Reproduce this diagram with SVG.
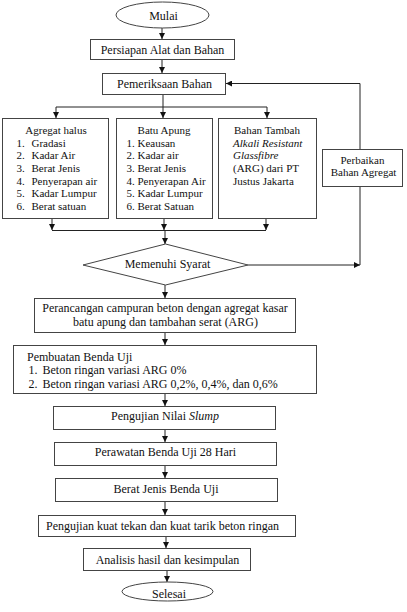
<svg xmlns="http://www.w3.org/2000/svg" width="407" height="612" viewBox="0 0 407 612" font-family="'Liberation Serif', 'Times New Roman', 'DejaVu Serif', serif">
<style>
.b{fill:#fff;stroke:#444;stroke-width:1}
.c{fill:none;stroke:#222;stroke-width:1}
text{font-family:'Liberation Serif','Times New Roman','DejaVu Serif',serif;fill:#111}
.t12{font-size:12px}
.t11{font-size:11px}
.m{text-anchor:middle}
.i{font-style:italic}
</style>
<defs>
<marker id="ah" viewBox="0 0 6 6" refX="6" refY="3" markerWidth="6" markerHeight="6" orient="auto" markerUnits="userSpaceOnUse">
<path d="M0,0 L6,3 L0,6 Z" fill="#111"/>
</marker>
</defs>
<rect width="407" height="612" fill="#fff"/>
<g id="connectors">
<path class="c" d="M162,28 V39" marker-end="url(#ah)"/>
<path class="c" d="M162,59 V73" marker-end="url(#ah)"/>
<path class="c" d="M163,94 V118" marker-end="url(#ah)"/>
<path class="c" d="M56,107 H267"/>
<path class="c" d="M56,107 V118" marker-end="url(#ah)"/>
<path class="c" d="M267,107 V118" marker-end="url(#ah)"/>
<path class="c" d="M52,219 V230" marker-end="url(#ah)"/>
<path class="c" d="M164,219 V230" marker-end="url(#ah)"/>
<path class="c" d="M266,219 V230" marker-end="url(#ah)"/>
<path class="c" d="M52,230.5 H266"/>
<path class="c" d="M165,230.5 V244" marker-end="url(#ah)"/>
<path class="c" d="M248,265 H360" marker-end="url(#ah)"/>
<path class="c" d="M360,265 V187"/>
<path class="c" d="M360,149 V83.5 H226" marker-end="url(#ah)"/>
<path class="c" d="M165,285 V298" marker-end="url(#ah)"/>
<path class="c" d="M165,333 V345" marker-end="url(#ah)"/>
<path class="c" d="M165,394 V406" marker-end="url(#ah)"/>
<path class="c" d="M165,430 V442" marker-end="url(#ah)"/>
<path class="c" d="M165,466 V478" marker-end="url(#ah)"/>
<path class="c" d="M165,502 V515" marker-end="url(#ah)"/>
<path class="c" d="M166,537 V548" marker-end="url(#ah)"/>
<path class="c" d="M167,571 V582" marker-end="url(#ah)"/>
</g>
<g id="mulai">
<ellipse class="b" cx="162.5" cy="15" rx="46.5" ry="13"/>
<text class="t12 m" x="163.5" y="19.5">Mulai</text>
</g>
<g id="persiapan">
<rect class="b" x="90.5" y="39.5" width="144" height="20"/>
<text class="t12 m" x="162.5" y="54">Persiapan Alat dan Bahan</text>
</g>
<g id="pemeriksaan">
<rect class="b" x="102.5" y="73.5" width="123" height="21"/>
<text class="t12 m" x="164.5" y="87.5">Pemeriksaan Bahan</text>
</g>
<g id="agregat-halus">
<rect class="b" x="2.5" y="118.5" width="106" height="100"/>
<text class="t11 m" x="56" y="133.5">Agregat halus</text>
<g class="t11">
<text x="16.5" y="146.5">1.</text><text x="31.5" y="146.5">Gradasi</text>
<text x="16.5" y="159">2.</text><text x="31.5" y="159">Kadar Air</text>
<text x="16.5" y="171.5">3.</text><text x="31.5" y="171.5">Berat Jenis</text>
<text x="16.5" y="184.5">4.</text><text x="31.5" y="184.5">Penyerapan air</text>
<text x="16.5" y="197">5.</text><text x="31.5" y="197">Kadar Lumpur</text>
<text x="16.5" y="209.5">6.</text><text x="31.5" y="209.5">Berat satuan</text>
</g>
</g>
<g id="batu-apung">
<rect class="b" x="116.5" y="118.5" width="96" height="100"/>
<text class="t11 m" x="164" y="133.5">Batu Apung</text>
<g class="t11">
<text x="126.5" y="146.5">1. Keausan</text>
<text x="126.5" y="159">2. Kadar air</text>
<text x="126.5" y="171.5">3. Berat Jenis</text>
<text x="126.5" y="184.5">4. Penyerapan Air</text>
<text x="126.5" y="197">5. Kadar Lumpur</text>
<text x="126.5" y="209.5">6. Berat Satuan</text>
</g>
</g>
<g id="bahan-tambah">
<rect class="b" x="218.5" y="118.5" width="98" height="100"/>
<g class="t11">
<text x="234" y="133.5">Bahan Tambah</text>
<text class="i" x="233" y="146.5">Alkali Resistant</text>
<text class="i" x="233" y="159">Glassfibre</text>
<text x="233" y="171.5">(ARG) dari PT</text>
<text x="233" y="184.5">Justus Jakarta</text>
</g>
</g>
<g id="perbaikan">
<rect class="b" x="322.5" y="149.5" width="80" height="37"/>
<text class="t11 m" x="362.5" y="163.5">Perbaikan</text>
<text class="t11 m" x="363.5" y="176">Bahan Agregat</text>
</g>
<g id="memenuhi">
<polygon class="b" points="165.5,244 248,265 165.5,285 83,265"/>
<text class="t12 m" x="167.5" y="268">Memenuhi Syarat</text>
</g>
<g id="perancangan">
<rect class="b" x="34.5" y="298.5" width="261" height="34"/>
<text class="t12 m" x="165" y="311.5">Perancangan campuran beton dengan agregat kasar</text>
<text class="t12 m" x="165.5" y="326">batu apung dan tambahan serat (ARG)</text>
</g>
<g id="pembuatan">
<rect class="b" x="13.5" y="345.5" width="303" height="48"/>
<text class="t12" x="27" y="361">Pembuatan Benda Uji</text>
<text class="t12" x="28.5" y="373.5">1.</text><text class="t12" x="42.5" y="373.5">Beton ringan variasi ARG 0%</text>
<text class="t12" x="28.5" y="387.5">2.</text><text class="t12" x="42.5" y="387.5">Beton ringan variasi ARG 0,2%, 0,4%, dan 0,6%</text>
</g>
<g id="slump">
<rect class="b" x="53.5" y="406.5" width="222" height="23"/>
<text class="t12 m" x="165" y="420">Pengujian Nilai <tspan class="i">Slump</tspan></text>
</g>
<g id="perawatan">
<rect class="b" x="54.5" y="442.5" width="222" height="23"/>
<text class="t12 m" x="165.5" y="456">Perawatan Benda Uji 28 Hari</text>
</g>
<g id="berat-jenis">
<rect class="b" x="55.5" y="478.5" width="222" height="23"/>
<text class="t12 m" x="166" y="492.5">Berat Jenis Benda Uji</text>
</g>
<g id="pengujian-kuat">
<rect class="b" x="38.5" y="515.5" width="257" height="21"/>
<text class="t12 m" x="162.5" y="529.5">Pengujian kuat tekan dan kuat tarik beton ringan</text>
</g>
<g id="analisis">
<rect class="b" x="83.5" y="548.5" width="167" height="22"/>
<text class="t12 m" x="167.5" y="563.5">Analisis hasil dan kesimpulan</text>
</g>
<g id="selesai">
<ellipse class="b" cx="167.5" cy="591.5" rx="45.5" ry="9.5"/>
<text class="t12 m" x="169" y="597.5">Selesai</text>
</g>
</svg>
